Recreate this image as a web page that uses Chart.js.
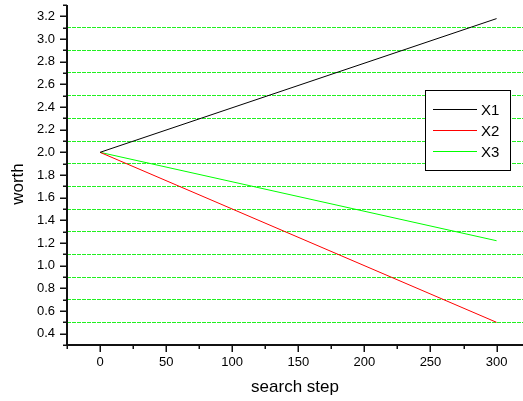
<!DOCTYPE html>
<html>
<head>
<meta charset="utf-8">
<script src="https://cdn.jsdelivr.net/npm/chart.js@4/dist/chart.umd.min.js"></script>
<style>
html,body{margin:0;padding:0;background:#fff;}
#wrap{width:523px;height:401px;}
</style>
</head>
<body>
<div id="wrap"><canvas id="c"></canvas></div>
<script>
// data
const steps = [0, 300];
const x1 = [2.0, 3.18];
const x2 = [2.0, 0.5];
const x3 = [2.0, 1.22];
const seriesNames = ['X1', 'X2', 'X3'];
const seriesColors = ['#000000', '#ff0000', '#00ff00'];
const xTicks = [-25, 0, 25, 50, 75, 100, 125, 150, 175, 200, 225, 250, 275, 300];

function pts(xs, ys){
  return xs.map((x, k) => ({x: x, y: ys[k]}));
}
function isEvenTenth(v){
  return Math.round(v * 10) % 2 === 0;
}

const axesPlugin = {
  id: 'axesPlugin',
  afterDraw(chart){
    const ctx = chart.ctx;
    const a = chart.chartArea;
    const xs = chart.scales.x, ys = chart.scales.y;
    ctx.save();
    ctx.strokeStyle = '#111';
    ctx.lineWidth = 2;
    ctx.beginPath();
    ctx.moveTo(a.left, a.top);
    ctx.lineTo(a.left, a.bottom + 1);
    ctx.moveTo(a.left - 1, a.bottom);
    ctx.lineTo(a.right, a.bottom);
    ctx.stroke();
    ctx.lineWidth = 1.5;
    ctx.beginPath();
    ys.ticks.forEach(t => {
      const py = Math.round(ys.getPixelForValue(t.value)) + 0.25;
      const len = isEvenTenth(t.value) ? 7 : 4;
      ctx.moveTo(a.left - len, py);
      ctx.lineTo(a.left, py);
    });
    xs.ticks.forEach(t => {
      const px = Math.round(xs.getPixelForValue(t.value)) + 0.25;
      const len = (t.value % 50 === 0) ? 7 : 4;
      ctx.moveTo(px, a.bottom);
      ctx.lineTo(px, a.bottom + len);
    });
    ctx.stroke();

    // y title
    ctx.fillStyle = '#000';
    ctx.font = '17px "Liberation Sans", Arial, sans-serif';
    ctx.textAlign = 'center';
    ctx.textBaseline = 'middle';
    ctx.translate(18, 184);
    ctx.rotate(-Math.PI / 2);
    ctx.fillText('worth', 0, 0);
    ctx.restore();

    // legend box
    ctx.save();
    const bx = 425.5, by = 90.5, bw = 85, bh = 80;
    ctx.fillStyle = '#fff';
    ctx.fillRect(bx, by, bw, bh);
    ctx.strokeStyle = '#000';
    ctx.lineWidth = 1;
    ctx.strokeRect(bx, by, bw, bh);
    ctx.font = '15px "Liberation Sans", Arial, sans-serif';
    ctx.textAlign = 'left';
    ctx.textBaseline = 'middle';
    const rows = [109.5, 130.5, 151.5];
    chart.data.datasets.forEach((ds, k) => {
      ctx.strokeStyle = ds.borderColor;
      ctx.beginPath();
      ctx.moveTo(433, rows[k]);
      ctx.lineTo(477, rows[k]);
      ctx.stroke();
      ctx.fillStyle = '#000';
      ctx.fillText(ds.label, 481, rows[k] + 1);
    });
    ctx.restore();
  }
};

function noPad(s){
  s.paddingTop = 0; s.paddingBottom = 0; s.paddingLeft = 0; s.paddingRight = 0;
}

new Chart(document.getElementById('c'), {
  type: 'line',
  data: {
    datasets: [
      {label: seriesNames[0], data: pts(steps, x1), borderColor: seriesColors[0]},
      {label: seriesNames[1], data: pts(steps, x2), borderColor: seriesColors[1]},
      {label: seriesNames[2], data: pts(steps, x3), borderColor: seriesColors[2]}
    ].map(d => Object.assign(d, {borderWidth: 1, pointRadius: 0, fill: false, tension: 0}))
  },
  options: {
    responsive: true,
    maintainAspectRatio: false,
    animation: false,
    layout: {padding: {top: 5, right: 0, left: 0, bottom: 0}},
    plugins: {legend: {display: false}, tooltip: {enabled: false}},
    scales: {
      x: {
        type: 'linear',
        min: -25,
        max: 320,
        afterBuildTicks: s => { s.ticks = xTicks.map(v => ({value: v})); },
        afterFit: s => { s.height = 56; noPad(s); },
        grid: {display: false, drawTicks: false},
        border: {display: false},
        ticks: {
          autoSkip: false,
          maxRotation: 0,
          padding: 10,
          color: '#000',
          font: {family: '"Liberation Sans", Arial, sans-serif', size: 13},
          callback: v => (v % 50 === 0 ? String(v) : '')
        },
        title: {
          display: true,
          text: 'search step',
          color: '#000',
          padding: {top: 0, bottom: 3},
          font: {family: '"Liberation Sans", Arial, sans-serif', size: 17}
        }
      },
      y: {
        min: 0.3,
        max: 3.3,
        afterFit: s => { s.width = 67; noPad(s); },
        border: {display: false, dash: [4, 1]},
        grid: {
          drawTicks: false,
          lineWidth: 1,
          color: c => {
            const v = c.tick ? c.tick.value : 0;
            if (isEvenTenth(v) || v < 0.35 || v > 3.25) return 'rgba(0,0,0,0)';
            return '#22f022';
          }
        },
        ticks: {
          stepSize: 0.1,
          autoSkip: false,
          padding: 12,
          color: '#000',
          font: {family: '"Liberation Sans", Arial, sans-serif', size: 13},
          callback: v => (isEvenTenth(v) && v > 0.35 && v < 3.25 ? v.toFixed(1) : '')
        }
      }
    }
  },
  plugins: [axesPlugin]
});
</script>
</body>
</html>
